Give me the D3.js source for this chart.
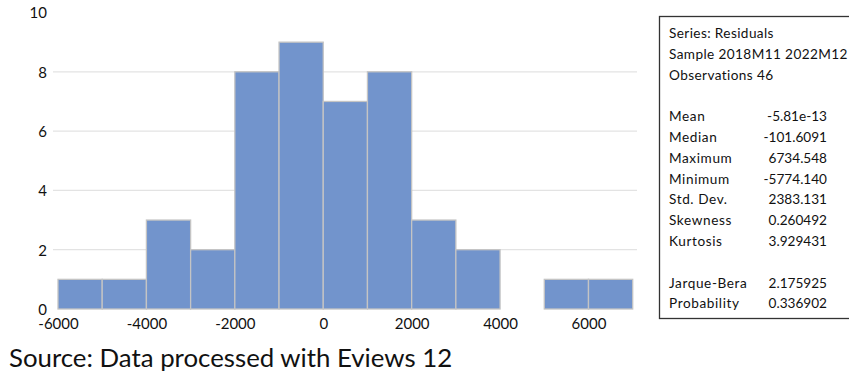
<!DOCTYPE html>
<html>
<head>
<meta charset="utf-8">
<script src="https://cdn.jsdelivr.net/npm/d3@7"></script>
<style>
  body { margin: 0; background: #fff; }
  text { font-family: Lato, "Open Sans", sans-serif; fill: #111; }
</style>
</head>
<body>
<div id="chart"></div>
<script>
// histogram bins (residuals, bin width 1000)
var binStarts = [-6000, -5000, -4000, -3000, -2000, -1000, 0, 1000, 2000, 3000, 4000, 5000, 6000];
var binCounts = [1, 1, 3, 2, 8, 9, 7, 8, 3, 2, 0, 1, 1];
var binWidth = 1000;
var xTicks = [-6000, -4000, -2000, 0, 2000, 4000, 6000];
var yTicks = [0, 2, 4, 6, 8, 10];
var gridTicks = [2, 4, 6, 8];

var statsHeader = ["Series: Residuals", "Sample 2018M11 2022M12", "Observations 46"];
var statLabels = ["Mean", "Median", "Maximum", "Minimum", "Std. Dev.", "Skewness", "Kurtosis"];
var statValues = ["-5.81e-13", "-101.6091", "6734.548", "-5774.140", "2383.131", "0.260492", "3.929431"];
var testLabels = ["Jarque-Bera", "Probability"];
var testValues = ["2.175925", "0.336902"];

var sourceNote = "Source: Data processed with Eviews 12";

var width = 849, height = 374;
var svg = d3.select("#chart").append("svg")
    .attr("width", width)
    .attr("height", height);

var x = d3.scaleLinear().domain([-6000, 7000]).range([58, 632.7]);
var y = d3.scaleLinear().domain([0, 10]).range([309, 12.5]);

// gridlines
svg.append("g").selectAll("line")
    .data(gridTicks)
    .enter().append("line")
    .attr("x1", 53).attr("x2", 637)
    .attr("y1", function(d) { return y(d); })
    .attr("y2", function(d) { return y(d); })
    .attr("stroke", "#e3e3e3")
    .attr("stroke-width", 1.2);

// bars
svg.append("g").selectAll("rect")
    .data(binStarts.map(function(s, i) { return {x0: s, n: binCounts[i]}; }).filter(function(d) { return d.n > 0; }))
    .enter().append("rect")
    .attr("x", function(d) { return x(d.x0); })
    .attr("width", function(d) { return x(d.x0 + binWidth) - x(d.x0); })
    .attr("y", function(d) { return y(d.n); })
    .attr("height", function(d) { return y(0) - y(d.n); })
    .attr("fill", "#7294cc")
    .attr("stroke", "#c4c4c4")
    .attr("stroke-width", 1.3);

// y axis labels
var yAxis = svg.append("g")
    .attr("transform", "translate(47,0)")
    .call(d3.axisLeft(y).tickValues(yTicks).tickSize(0).tickPadding(0));
yAxis.select(".domain").remove();
yAxis.selectAll("text")
    .attr("font-family", "Lato, 'Open Sans', sans-serif")
    .attr("font-size", 15)
    .attr("fill", "#111")
    .attr("dy", "0.36em");

// x axis labels (plain hyphen for negatives, as in the picture)
var xAxis = svg.append("g")
    .attr("transform", "translate(0," + 318 + ")")
    .call(d3.axisBottom(x).tickValues(xTicks).tickSize(0).tickPadding(0)
        .tickFormat(function(d) { return String(d); }));
xAxis.select(".domain").remove();
xAxis.selectAll("text")
    .attr("font-family", "Lato, 'Open Sans', sans-serif")
    .attr("font-size", 15)
    .attr("fill", "#111")
    .attr("dy", "0.75em");

// stats box
var box = svg.append("g");
box.append("rect")
    .attr("x", 659.5).attr("y", 16.5)
    .attr("width", 200).attr("height", 302)
    .attr("fill", "none")
    .attr("stroke", "#333")
    .attr("stroke-width", 1.3);

var lineH = 20.8;
var top0 = 38;
var fs = 13.6;
function row(i) { return top0 + i * lineH; }

function column(cls, data, xPos, offset, anchor, spacing) {
    box.selectAll("text." + cls)
        .data(data)
        .enter().append("text")
        .attr("class", cls)
        .attr("x", xPos)
        .attr("y", function(d, i) { return row(i + offset); })
        .attr("text-anchor", anchor)
        .attr("font-size", fs)
        .attr("letter-spacing", spacing)
        .text(function(d) { return d; });
}

column("hdr", statsHeader, 669, 0, "start", 0.4);
column("slab", statLabels, 669, 4, "start", 0.6);
column("sval", statValues, 827, 4, "end", 0);
column("tlab", testLabels, 669, 12, "start", 0.6);
column("tval", testValues, 827, 12, "end", 0);

// source note
svg.append("text")
    .attr("x", 9)
    .attr("y", 367)
    .attr("font-size", 25.8)
    .text(sourceNote);
</script>
</body>
</html>
